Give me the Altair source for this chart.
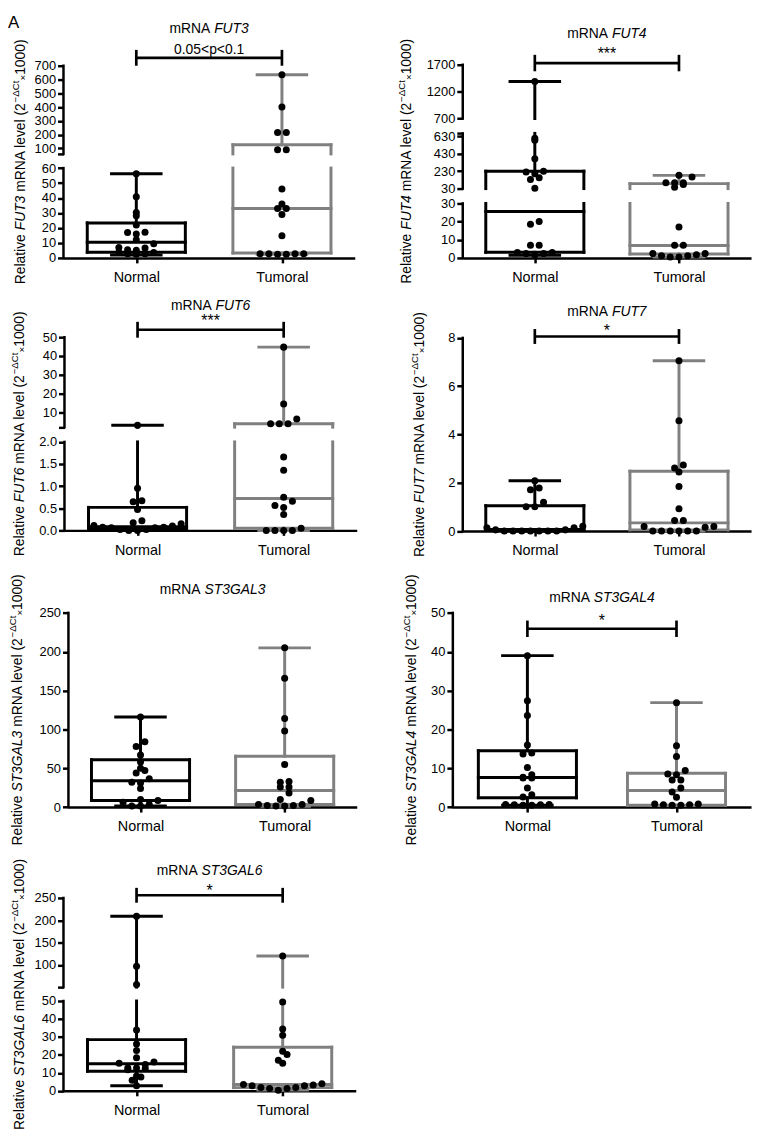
import altair as alt
import pandas as pd
import json

# ---------------- data ----------------
GROUPS = ["Normal", "Tumoral"]

FUT3_NORMAL = [56.2, 40.8, 30.4, 28.2, 22.0, 17.2, 15.9, 17.0, 12.1, 9.5, 6.6, 5.1, 7.0, 5.5, 3.6, 2.8, 2.5, 2.8, 3.6]
FUT3_TUMORAL = [635, 400, 215, 215, 90, 90, 46, 36, 33, 33, 29, 14.8, 2.8, 2.8, 2.5, 2.5, 2.8, 2.8]
FUT3_BOX_NORMAL = [2.0, 3.8, 10.4, 23.4, 56.2]      # min, Q1, median, Q3, max
FUT3_BOX_TUMORAL = [2.5, 3.3, 33.0, 126.0, 635.0]

FUT4_NORMAL = [1390, 610, 585, 373, 222, 200, 230, 154, 135, 35, 20, 18.5, 7, 7, 3, 2.4, 1.8, 2.4, 3]
FUT4_TUMORAL = [182, 163, 98, 76, 45, 98, 98, 17, 7, 7, 2.4, 1.8, 1.2, 0.5, 0.5, 1.2, 2.4]
FUT4_BOX_NORMAL = [1.5, 3.1, 25.6, 230.0, 1390.0]
FUT4_BOX_TUMORAL = [0.5, 2.2, 6.9, 87.0, 182.0]

FUT6_NORMAL = [3.0, 0.955, 0.67, 0.65, 0.47, 0.22, 0.15, 0.10, 0.07, 0.06, 0.02, 0.0, 0.0, 0.02, 0.06, 0.07, 0.11, 0.17]
FUT6_TUMORAL = [44.7, 14.4, 6.3, 3.8, 3.8, 3.8, 1.66, 1.36, 0.75, 0.66, 0.56, 0.52, 0.36, 0.05, 0.0, 0.0, 0.0, 0.0]
FUT6_BOX_NORMAL = [0.0, 0.02, 0.085, 0.52, 3.0]
FUT6_BOX_TUMORAL = [0.0, 0.05, 0.72, 3.8, 44.7]

FUT7_NORMAL = [2.08, 1.78, 1.71, 1.19, 1.01, 1.01, 0.14, 0.05, 0, 0, 0, 0, 0, 0, 0, 0.05, 0.14, 0.2]
FUT7_TUMORAL = [7.05, 4.57, 2.74, 2.61, 2.45, 1.85, 0.92, 0.44, 0.44, 0.19, 0.16, 0.19, 0, 0, 0, 0, 0, 0]
FUT7_BOX_NORMAL = [0.0, 0.03, 0.07, 1.05, 2.08]
FUT7_BOX_TUMORAL = [0.0, 0.05, 0.34, 2.48, 7.05]

ST3GAL3_NORMAL = [116, 84, 78, 67, 58, 47, 50, 44, 36.5, 31, 32, 24, 9.7, 6.4, 3.3, 1.5, 1.5, 8.5]
ST3GAL3_TUMORAL = [205, 166, 114, 98, 55, 33, 32, 26, 26, 18, 8.4, 9.7, 3.4, 2.0, 1.3, 1.3, 2.0, 3.4]
ST3GAL3_BOX_NORMAL = [1.3, 8.5, 34.0, 61.0, 116.0]
ST3GAL3_BOX_TUMORAL = [1.0, 3.4, 21.5, 65.5, 205.0]

ST3GAL4_NORMAL = [39, 27.4, 23.6, 16, 13.7, 13.9, 10.2, 7.7, 7.5, 7.5, 8.3, 4.9, 2.6, 3.2, 0.7, 0.6, 0.5, 0.5, 0.6, 0.7]
ST3GAL4_TUMORAL = [26.9, 15.8, 13.0, 9.4, 8.3, 8.5, 7.0, 7.0, 4.9, 3.9, 2.55, 0.8, 0.6, 0.5, 0.5, 0.6, 0.8]
ST3GAL4_BOX_NORMAL = [0.5, 2.4, 7.6, 14.5, 39.0]
ST3GAL4_BOX_TUMORAL = [0.4, 0.5, 4.3, 8.7, 26.9]

ST3GAL6_NORMAL = [209, 97, 56, 33.8, 26.1, 22.4, 18.4, 16.0, 14.6, 15.4, 12.7, 11.8, 12.7, 12.4, 7.7, 5.9, 8.3, 2.8]
ST3GAL6_TUMORAL = [120, 49.5, 34.4, 30.9, 22.0, 20.2, 17.0, 15.4, 4.0, 3.5, 2.8, 1.8, 1.3, 0.4, 1.3, 1.8, 2.8, 3.2]
ST3GAL6_BOX_NORMAL = [2.8, 10.9, 15.1, 28.5, 209.0]
ST3GAL6_BOX_TUMORAL = [0.4, 1.8, 3.5, 24.3, 120.0]

# ---------------- style / layout ----------------
FONT = "Liberation Sans"
BLACK, GRAY = "#000000", "#808080"
CELL_W, CELL_H = 378, 280
E = 1e-6
BOX_HALF, CAP_HALF = 49.5, 25.0
STEP, BIN_H, DOT = 8.8, 7.5, 50
LW = 3.0
TI_FS, YT_FS = 14, 14

CW = {" ": 278, "(": 333, ")": 333, "\u00d7": 584, "\u2212": 584, "\u0394": 668, "C": 722, "t": 278,
      "R": 722, "e": 556, "l": 222, "a": 556, "i": 222, "v": 500, "m": 833, "N": 722, "A": 667,
      "F": 611, "U": 722, "T": 611, "S": 667, "G": 778, "L": 556}


def tw(s, fs):
    return sum(CW.get(c, 556) for c in s) / 1000.0 * fs


PANELS = [
    dict(gene="FUT3", normal=FUT3_NORMAL, tumoral=FUT3_TUMORAL, bn=FUT3_BOX_NORMAL, bt=FUT3_BOX_TUMORAL,
         xl=56, xr=350, segs=[(0, 60, 247, 156.3), (60 + E, 700, 142, 53)],
         ticks=[0, 10, 20, 30, 40, 50, 60, 60 + E, 100, 200, 300, 400, 500, 600, 700], hidden=[60 + E], dec=-1,
         title_y=19.5, sig="0.05<p<0.1", sig_fs=14, sig_y=41, br_y=45, br_h=8, yt_x=17, yt_y=150, letter=True),
    dict(gene="FUT4", normal=FUT4_NORMAL, tumoral=FUT4_TUMORAL, bn=FUT4_BOX_NORMAL, bt=FUT4_BOX_TUMORAL,
         xl=81, xr=372, segs=[(0, 30, 247, 192), (30 + E, 665, 177, 121.3), (700, 1700, 106.3, 52)],
         ticks=[0, 10, 20, 30, 30 + E, 230, 430, 630, 665, 700, 1200, 1700], hidden=[665], dec=-1,
         title_y=25.5, sig="***", sig_fs=16, sig_y=46, br_y=50.3, br_h=8.3, yt_x=29, yt_y=149.5),
    dict(gene="FUT6", normal=FUT6_NORMAL, tumoral=FUT6_TUMORAL, bn=FUT6_BOX_NORMAL, bt=FUT6_BOX_TUMORAL,
         xl=57, xr=352, segs=[(0, 2, 242, 152.7), (2 + E, 50, 137.8, 47)],
         ticks=[0, 0.5, 1, 1.5, 2, 2 + E, 10, 20, 30, 40, 50], hidden=[2 + E], dec=2,
         title_y=19.5, sig="***", sig_fs=16, sig_y=36, br_y=39.5, br_h=8, yt_x=16, yt_y=144.5),
    dict(gene="FUT7", normal=FUT7_NORMAL, tumoral=FUT7_TUMORAL, bn=FUT7_BOX_NORMAL, bt=FUT7_BOX_TUMORAL,
         xl=81, xr=372, segs=[(0, 8, 242.7, 47.7)],
         ticks=[0, 2, 4, 6, 8], hidden=[], dec=-1,
         title_y=26, sig="*", sig_fs=16, sig_y=45.5, br_y=46.3, br_h=7.5, yt_x=42, yt_y=145.2),
    dict(gene="ST3GAL3", normal=ST3GAL3_NORMAL, tumoral=ST3GAL3_TUMORAL, bn=ST3GAL3_BOX_NORMAL, bt=ST3GAL3_BOX_TUMORAL,
         xl=61, xr=352, segs=[(0, 250, 241.3, 45.3)],
         ticks=[0, 50, 100, 150, 200, 250], hidden=[], dec=-1,
         title_y=26, sig=None, yt_x=14, yt_y=143.3),
    dict(gene="ST3GAL4", normal=ST3GAL4_NORMAL, tumoral=ST3GAL4_TUMORAL, bn=ST3GAL4_BOX_NORMAL, bt=ST3GAL4_BOX_TUMORAL,
         xl=71, xr=372, segs=[(0, 50, 241.3, 45.3)],
         ticks=[0, 10, 20, 30, 40, 50], hidden=[], dec=-1,
         title_y=34.5, sig="*", sig_fs=16, sig_y=58, br_y=61.3, br_h=8.3, yt_x=34, yt_y=143.3),
    dict(gene="ST3GAL6", normal=ST3GAL6_NORMAL, tumoral=ST3GAL6_TUMORAL, bn=ST3GAL6_BOX_NORMAL, bt=ST3GAL6_BOX_TUMORAL,
         xl=56, xr=351, segs=[(0, 50, 247.7, 157), (50 + E, 250, 143, 53)],
         ticks=[0, 10, 20, 30, 40, 50, 50 + E, 100, 150, 200, 250], hidden=[50 + E], dec=-1,
         title_y=29.5, sig="*", sig_fs=16, sig_y=51.5, br_y=50.3, br_h=7.5, yt_x=16, yt_y=150.3),
]

ONE = pd.DataFrame({"k": [0]})
COLOR_SCALE = alt.Scale(domain=GROUPS, range=[BLACK, GRAY])


def to_px(v, segs):
    for d0, d1, p0, p1 in segs:
        if d0 - 1e-9 <= v <= d1 + 1e-9:
            return p0 + (v - d0) / (d1 - d0) * (p1 - p0)
    raise ValueError(v)


def swarm(values, gi, segs, yb, unit):
    rows = {}
    for v in values:
        py = to_px(v, segs)
        b = int((yb - py) // BIN_H)
        rows.setdefault(b, []).append((v, py))
    out = []
    for b, items in rows.items():
        items.sort()
        n = len(items)
        slots = sorted([i - (n - 1) / 2.0 for i in range(n)], key=lambda o: (abs(o), o))
        for (v, py), o in zip(items, slots):
            out.append({"group": GROUPS[gi], "xpos": gi + o * STEP / unit, "value": v})
    return out


def box_lines(stats, gi, segs, unit):
    mn, q1, md, q3, mx = stats
    hw, cw = BOX_HALF / unit, CAP_HALF / unit
    lines = []

    def h(y, half):
        lines.append(dict(x=gi - half, x2=gi + half, y=y, y2=y))

    def v(x, lo, hi):
        for d0, d1, _, _ in segs:
            a, b = max(lo, d0), min(hi, d1)
            if b > a:
                lines.append(dict(x=x, x2=x, y=a, y2=b))

    for val, half in [(q1, hw), (md, hw), (q3, hw), (mn, cw), (mx, cw)]:
        h(val, half)
    v(gi - hw, q1, q3)
    v(gi + hw, q1, q3)
    v(gi, q3, mx)
    v(gi, mn, q1)
    for l in lines:
        l["group"] = GROUPS[gi]
    return lines


def text_layer(s, x, y, fs, style="normal", angle=0, align="left"):
    kw = dict(text=s, font=FONT, fontSize=fs, fontStyle=style, color="black", align=align, baseline="alphabetic")
    if angle:
        kw["angle"] = angle
    return alt.Chart(ONE).mark_text(**kw).encode(x=alt.value(x), y=alt.value(y))


def title_layers(gene, cx, by):
    w1, w2 = tw("mRNA ", TI_FS), tw(gene, TI_FS)
    x0 = cx - (w1 + w2) / 2
    return [text_layer("mRNA", x0, by, TI_FS), text_layer(gene, x0 + w1, by, TI_FS, "italic")]


def ytitle_layers(gene, bx, cy):
    F = YT_FS
    parts = [("Relative ", F, "normal", 0.0), (gene, F, "italic", 0.0), (" mRNA level (2", F, "normal", 0.0),
             ("\u2212\u0394Ct", F * 0.7, "normal", -0.42 * F), ("\u00d7", F * 0.7, "normal", 1.0),
             ("1000)", F, "normal", 0.0)]
    total = sum(tw(t, s) for t, s, _, _ in parts)
    pos = cy + total / 2
    out = []
    for t, s, st, sh in parts:
        lead = len(t) - len(t.lstrip(" "))
        start = pos - tw(" " * lead, s)
        out.append(text_layer(t.strip(), bx + sh, start, s, st, angle=270))
        pos -= tw(t, s)
    return out


def build_panel(p):
    xl, xr = p["xl"], p["xr"]
    segs = p["segs"]
    yb = segs[0][2]
    unit = (xr - xl) / 2.0
    dom, rng = [], []
    for d0, d1, p0, p1 in segs:
        dom += [d0, d1]
        rng += [p0, p1]
    xs = alt.Scale(domain=[-0.5, 1.5], range=[xl, xr], nice=False, zero=False)
    ys = alt.Scale(domain=dom, range=rng, nice=False, zero=False)
    xax = alt.Axis(values=[0, 1], title=None, labelExpr="datum.value == 0 ? 'Normal' : 'Tumoral'",
                   offset=yb - CELL_H, domain=True, labelFlush=False)
    lab = ("indexof(%s, datum.value) >= 0 ? '' : format(datum.value, datum.value <= %s ? '.1f' : 'd')"
           % (json.dumps(p["hidden"]), p["dec"]))
    yax = alt.Axis(values=p["ticks"], title=None, domain=False, offset=-xl, labelExpr=lab, labelOverlap=False)

    def X(f):
        return alt.X(f, type="quantitative", scale=xs, axis=xax)

    def Y(f):
        return alt.Y(f, type="quantitative", scale=ys, axis=yax)

    color = alt.Color("group:N", scale=COLOR_SCALE, legend=None)

    layers = []
    if p.get("letter"):
        layers.append(alt.Chart(ONE).mark_rect(fill="white").encode(
            x=alt.value(0), x2=alt.value(1), y=alt.value(0), y2=alt.value(1)))
        layers.append(text_layer("A", 0, 15, 17))

    ydom = pd.DataFrame([dict(x=-0.5, x2=-0.5, y=d0, y2=d1) for d0, d1, _, _ in segs])
    layers.append(alt.Chart(ydom).mark_rule(color="black", strokeWidth=2.5, strokeCap="square").encode(
        x=X("x"), x2=alt.X2("x2"), y=Y("y"), y2=alt.Y2("y2")))

    lines = box_lines(p["bn"], 0, segs, unit) + box_lines(p["bt"], 1, segs, unit)
    layers.append(alt.Chart(pd.DataFrame(lines)).mark_rule(strokeWidth=LW, strokeCap="square").encode(
        x=X("x"), x2=alt.X2("x2"), y=Y("y"), y2=alt.Y2("y2"), color=color))

    pts = swarm(p["normal"], 0, segs, yb, unit) + swarm(p["tumoral"], 1, segs, yb, unit)
    layers.append(alt.Chart(pd.DataFrame(pts)).mark_circle(size=DOT, color="black", opacity=1).encode(
        x=X("xpos"), y=Y("value")))

    layers += title_layers(p["gene"], (xl + xr) / 2.0, p["title_y"])
    if p.get("sig"):
        by, bh = p["br_y"], p["br_h"]
        layers.append(alt.Chart(pd.DataFrame({"a": [0.0], "b": [1.0]})).mark_rule(
            color="black", strokeWidth=2.7).encode(x=X("a"), x2=alt.X2("b"), y=alt.value(by)))
        layers.append(alt.Chart(pd.DataFrame({"a": [0.0, 1.0]})).mark_rule(
            color="black", strokeWidth=2.7).encode(x=X("a"), y=alt.value(by - bh), y2=alt.value(by + bh)))
        layers.append(alt.Chart(pd.DataFrame({"m": [0.5]})).mark_text(
            text=p["sig"], font=FONT, fontSize=p["sig_fs"], color="black", align="center",
            baseline="alphabetic").encode(x=X("m"), y=alt.value(p["sig_y"])))
    layers += ytitle_layers(p["gene"], p["yt_x"], p["yt_y"])
    return alt.layer(*layers).properties(width=CELL_W, height=CELL_H)


charts = [build_panel(p) for p in PANELS]
chart = alt.concat(*charts, columns=2, spacing=0, bounds="flush").properties(padding=0)
chart = (chart.configure_view(stroke=None)
         .configure_axis(grid=False, domainColor="black", domainWidth=2.5, tickColor="black", tickWidth=2.5,
                         labelColor="black", labelFont=FONT, labelOverlap=False, labelFlush=False)
         .configure_axisY(tickSize=6, labelFontSize=13, labelPadding=2)
         .configure_axisX(tickSize=5, labelFontSize=14.5, labelPadding=8))

chart.save("out.html", embed_options={"renderer": "svg", "actions": False})
